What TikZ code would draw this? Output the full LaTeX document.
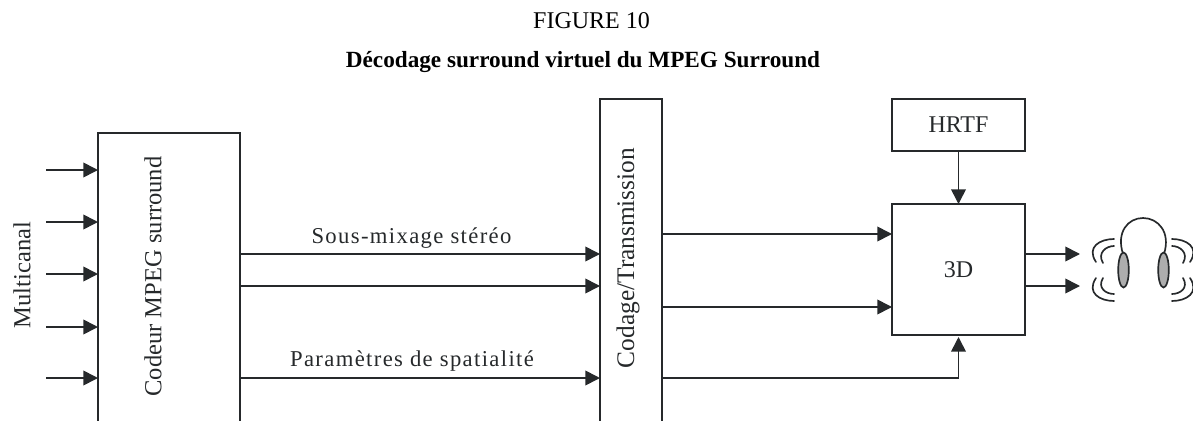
\documentclass[tikz,border=0pt]{standalone}
\usepackage{fontspec}
\setmainfont{Liberation Serif}
\newfontfamily\spacedfont[LetterSpace=6]{Liberation Serif}
\usetikzlibrary{positioning,arrows.meta}
\definecolor{ink}{HTML}{26292B}
\tikzset{
	blockbox/.style={draw=ink,line width=1.25pt,outer sep=0pt,inner sep=0pt,text=ink,font=\fontsize{18}{21}\selectfont},
	sig/.style={-{Triangle[length=11pt,width=11pt]},draw=ink,line width=1.25pt},
	vlabel/.style={rotate=90,text=ink,inner sep=0pt,font=\fontsize{18.4}{21}\selectfont},
	siglabel/.style={text=ink,inner sep=0pt,font=\fontsize{17}{20}\spacedfont},
	wave/.style={draw=ink,line width=1.25pt,line cap=round}
}
\begin{document}
\begin{tikzpicture}[x=0.75pt,y=-0.75pt]
		\clip (0,0) rectangle (1193,421);
		\node[inner sep=0pt,text=black,font=\fontsize{18}{21}\selectfont] (fignum) at (591.5,21) {FIGURE 10};
		\node[inner sep=0pt,text=black,font=\fontsize{17.4}{20}\selectfont\bfseries] (figtitle) at (583,62) {Décodage surround virtuel du MPEG Surround};
		
		\node[blockbox,anchor=north west,minimum width=106.5pt,minimum height=240pt] (coder) at (98,133) {};
		\node[vlabel] (coderlabel) at (153,276.5) {Codeur MPEG surround};
		\node[vlabel] (multi) at (22,275) {Multicanal};
		
		\node[blockbox,minimum width=46.5pt,minimum height=270pt,right=270pt of coder.north east,anchor=north west,shift={(0,25.5pt)}] (trans) {};
		\node[vlabel,font=\fontsize{19}{21}\selectfont] (translabel) at (628,258) {Codage/Transmission};
		
		\node[blockbox,minimum width=99.75pt,minimum height=98.25pt,right=172.5pt of trans.north east,anchor=north west,shift={(0,-78.75pt)}] (threed) {3D};
		\node[blockbox,minimum width=99.75pt,minimum height=39pt,above=39.75pt of threed] (hrtf) {HRTF};
		\draw[sig] (hrtf.south)--(threed.north);
		
		\coordinate (in1) at (46,170);
		\coordinate (in2) at (46,222);
		\coordinate (in3) at (46,274);
		\coordinate (in4) at (46,327);
		\coordinate (in5) at (46,378);
		\draw[sig] (in1)--(in1-|coder.west);
		\draw[sig] (in2)--(in2-|coder.west);
		\draw[sig] (in3)--(in3-|coder.west);
		\draw[sig] (in4)--(in4-|coder.west);
		\draw[sig] (in5)--(in5-|coder.west);
		
		\coordinate (mix1) at (240,254);
		\coordinate (mix2) at (240,286);
		\coordinate (spat) at (240,378);
		\draw[sig] (mix1)--(mix1-|trans.west);
		\draw[sig] (mix2)--(mix2-|trans.west);
		\draw[sig] (spat)--(spat-|trans.west);
		\node[siglabel] (mixlabel) at (411.5,238) {Sous-mixage stéréo};
		\node[siglabel] (spatlabel) at (412,361) {Paramètres de spatialité};
		
		\coordinate (dec1) at (662,234);
		\coordinate (dec2) at (662,307);
		\coordinate (dec3) at (662,378);
		\draw[sig] (dec1)--(dec1-|threed.west);
		\draw[sig] (dec2)--(dec2-|threed.west);
		\draw[sig] (dec3)-|([yshift=-1.5pt]threed.south);
		
		\coordinate (out1) at (1080,254);
		\coordinate (out2) at (1080,286);
		\draw[sig] (out1-|threed.east)--(out1);
		\draw[sig] (out2-|threed.east)--(out2);
		
		% headphones
		\draw[draw=ink,line width=1.25pt] (1123,254) .. controls (1116,232) and (1128,218) .. (1143,218) .. controls (1158,218) and (1171,232) .. (1164,254);
		\draw[draw=ink,line width=1.25pt,fill=black!32] (1123.5,270) ellipse [x radius=5.3,y radius=17.5];
		\draw[draw=ink,line width=1.25pt,fill=black!32] (1163.5,270) ellipse [x radius=5.3,y radius=17.5];
		\draw[wave] (1114,239) .. controls (1100,239) and (1086,247) .. (1096,262);
		\draw[wave] (1114,246) .. controls (1106,246) and (1097,253) .. (1103,263);
		\draw[wave] (1103,278) .. controls (1097,288) and (1106,294) .. (1114,294);
		\draw[wave] (1096,278) .. controls (1086,293) and (1100,301) .. (1114,301);
		\draw[wave] (1172,239) .. controls (1186,239) and (1200,247) .. (1190,262);
		\draw[wave] (1172,246) .. controls (1180,246) and (1189,253) .. (1183,263);
		\draw[wave] (1183,278) .. controls (1189,288) and (1180,294) .. (1172,294);
		\draw[wave] (1190,278) .. controls (1200,293) and (1186,301) .. (1172,301);
	\end{tikzpicture}
\end{document}
